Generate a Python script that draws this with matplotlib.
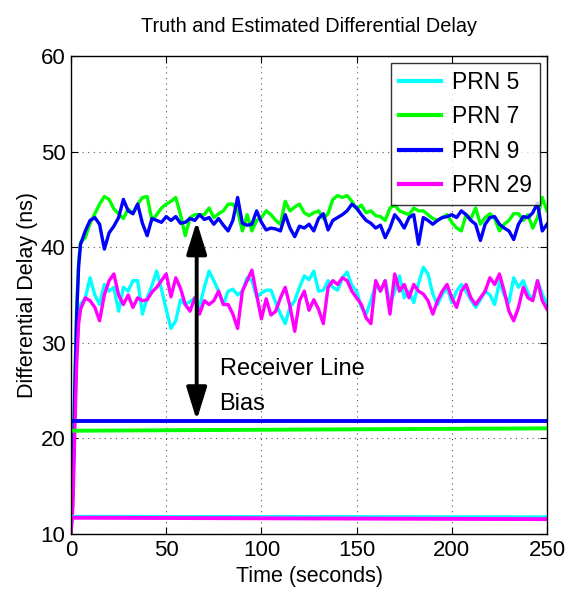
import numpy as np
import matplotlib
matplotlib.use("Agg")
import matplotlib.pyplot as plt

plt.rcParams['font.family'] = ['Liberation Sans', 'DejaVu Sans']

time_early = [0, 1, 2, 3, 4, 5]
time_main = list(np.arange(7.5, 250.1, 2.5))
time_s = time_early + time_main

prn7_est = [10, 16, 26, 34, 38.5, 40.5,
    41.0, 42.5, 43.5, 44.5, 45.3, 45.0, 44.0, 43.5, 43.0, 44.0, 43.5, 44.5, 45.2, 45.3,
    42.8, 43.4, 44.1, 44.5, 44.8, 45.2, 43.4, 41.2, 43.1, 43.4, 43.4, 43.4, 44.1, 43.1,
    43.5, 43.8, 44.5, 44.5, 43.8, 41.7, 43.4, 41.7, 42.8, 43.1, 43.8, 43.4, 42.8, 42.4,
    44.8, 43.8, 44.2, 44.5, 43.6, 43.3, 43.6, 43.8, 43.0, 43.5, 45.0, 45.4, 45.2, 45.4,
    44.8, 44.0, 44.4, 43.6, 43.8, 43.3, 43.2, 42.8, 44.1, 44.4, 43.8, 43.6, 43.4, 44.1,
    43.8, 43.8, 43.4, 43.0, 42.8, 43.1, 43.4, 42.6, 42.0, 41.7, 43.4, 43.0, 44.1, 42.4,
    43.1, 43.5, 43.0, 41.7, 42.4, 42.8, 43.5, 43.5, 42.8, 43.4, 42.0, 43.1, 45.2, 43.8]

prn9_est = [10, 15, 25, 33, 38, 40.3,
    41.7, 42.8, 43.1, 42.4, 39.8, 41.5, 42.2, 43.1, 45.0, 43.8, 43.5, 44.5, 42.5, 41.2,
    43.0, 42.8, 42.6, 43.2, 42.8, 43.2, 42.5, 42.6, 43.0, 42.8, 43.4, 42.9, 43.1, 42.4,
    43.0, 42.3, 41.7, 42.8, 45.2, 42.5, 42.3, 42.4, 43.8, 42.6, 41.8, 42.0, 41.9, 41.7,
    43.4, 42.0, 41.1, 42.2, 42.0, 42.4, 41.7, 43.0, 43.5, 41.8, 42.8, 43.1, 43.4, 43.8,
    44.5, 44.1, 43.4, 42.8, 42.5, 42.0, 42.3, 41.0, 42.0, 43.4, 42.8, 42.0, 43.1, 43.4,
    40.3, 43.1, 42.8, 42.4, 42.8, 43.1, 43.2, 43.4, 43.1, 43.8, 43.4, 42.8, 42.4, 40.7,
    42.4, 43.1, 43.2, 42.4, 42.0, 41.7, 40.8, 42.4, 43.2, 43.1, 43.6, 44.6, 41.7, 42.4]

prn5_est = [10, 14, 22, 29, 32.5, 34.0,
    34.7, 36.8, 35.0, 34.0, 36.1, 35.4, 35.8, 33.3, 35.8, 35.4, 36.5, 36.5, 33.0, 34.7,
    36.0, 37.5, 35.6, 33.5, 31.5, 32.3, 34.5, 34.0, 34.3, 34.7, 33.8, 35.8, 37.5, 36.5,
    35.4, 34.0, 35.4, 35.6, 35.0, 35.4, 36.8, 36.5, 34.8, 35.2, 35.5, 35.5, 34.2, 33.0,
    32.0, 33.7, 34.4, 35.8, 37.0, 36.6, 37.5, 35.4, 35.5, 36.5, 35.8, 35.5, 36.8, 37.4,
    36.0, 35.4, 33.7, 33.0, 34.4, 36.1, 35.4, 36.5, 34.0, 35.4, 37.0, 34.7, 35.4, 34.2,
    36.2, 37.9, 37.2, 35.1, 34.0, 35.1, 35.8, 34.2, 35.4, 36.1, 35.4, 34.5, 33.7, 34.5,
    35.4, 35.0, 34.0, 36.4, 35.0, 34.2, 36.8, 35.8, 36.5, 35.2, 34.5, 36.5, 35.1, 34.0]

prn29_est = [10, 13, 21, 28, 32, 33.5,
    34.7, 34.4, 33.7, 32.3, 35.0, 36.5, 37.2, 35.0, 34.0, 35.0, 33.7, 34.7, 34.4, 34.5,
    35.3, 35.8, 36.5, 37.2, 34.8, 36.8, 35.7, 34.0, 33.3, 34.7, 33.0, 34.4, 34.0, 34.4,
    35.4, 34.0, 34.0, 33.0, 31.5, 35.4, 36.5, 37.6, 35.0, 32.5, 34.6, 32.9, 33.3, 34.7,
    35.8, 33.8, 31.2, 34.4, 35.4, 33.4, 34.5, 33.5, 32.0, 35.8, 36.5, 36.1, 36.8, 36.5,
    35.4, 34.7, 34.0, 32.6, 32.0, 36.5, 35.4, 36.5, 33.0, 37.2, 35.4, 36.1, 34.7, 36.1,
    35.4, 35.1, 34.4, 33.0, 34.4, 35.4, 36.1, 34.7, 33.7, 35.4, 36.1, 34.7, 34.0, 34.7,
    35.4, 36.8, 36.1, 37.2, 35.4, 33.3, 32.3, 33.7, 35.8, 34.7, 34.4, 36.5, 34.4, 33.5]

truth_time = [0.5, 250]
prn5_truth = [11.8, 11.75]
prn7_truth = [20.8, 21.05]
prn9_truth = [21.8, 21.8]
prn29_truth = [11.7, 11.55]

labels = ["PRN 5", "PRN 7", "PRN 9", "PRN 29"]
colors = ["#00ffff", "#00ff00", "#0000ff", "#ff00ff"]

fig = plt.figure(figsize=(5.76, 6.02), dpi=100)
ax = fig.add_axes([0.1233, 0.113, 0.8264, 0.794])

ests = [prn5_est, prn7_est, prn9_est, prn29_est]
truths = [prn5_truth, prn7_truth, prn9_truth, prn29_truth]
for est, c, lab in zip(ests, colors, labels):
    ax.plot(time_s, est, color=c, lw=2.4, label=lab)
for tr, c in zip(truths, colors):
    ax.plot(truth_time, tr, color=c, lw=2.8)

ax.set_xlim(0, 250)
ax.set_ylim(10, 60)
ax.set_xticks([0, 50, 100, 150, 200, 250])
ax.set_yticks([10, 20, 30, 40, 50, 60])
ax.tick_params(direction='in', top=True, right=True, labelsize=16, length=5, pad=4)
ax.grid(True, linestyle=(0, (1, 4)), color='#555555', linewidth=0.8)
for s in ax.spines.values():
    s.set_linewidth(1.0)

ax.set_xlabel("Time (seconds)", fontsize=15.5, labelpad=4)
ax.set_ylabel("Differential Delay (ns)", fontsize=15.5, labelpad=2)
ax.set_title("Truth and Estimated Differential Delay", fontsize=14.3, pad=17)

ax.annotate("", xy=(66, 21.9), xytext=(66, 42.7),
            arrowprops=dict(arrowstyle='<|-|>,head_length=0.9,head_width=0.28',
                            color='black', lw=2.8,
                            mutation_scale=22, shrinkA=0, shrinkB=0))
ax.text(78, 27.3, "Receiver Line", fontsize=17, va='center', ha='left')
ax.text(78, 23.6, "Bias", fontsize=17, va='center', ha='left')

leg = ax.legend(loc='upper right', fontsize=16.5, frameon=True, fancybox=False,
                edgecolor='black', handlelength=1.8, borderaxespad=0.3,
                labelspacing=0.5, handletextpad=0.5, borderpad=0.35)
leg.get_frame().set_linewidth(1.0)
for l in leg.get_lines():
    l.set_linewidth(3)

fig.savefig("out.png", dpi=100)
